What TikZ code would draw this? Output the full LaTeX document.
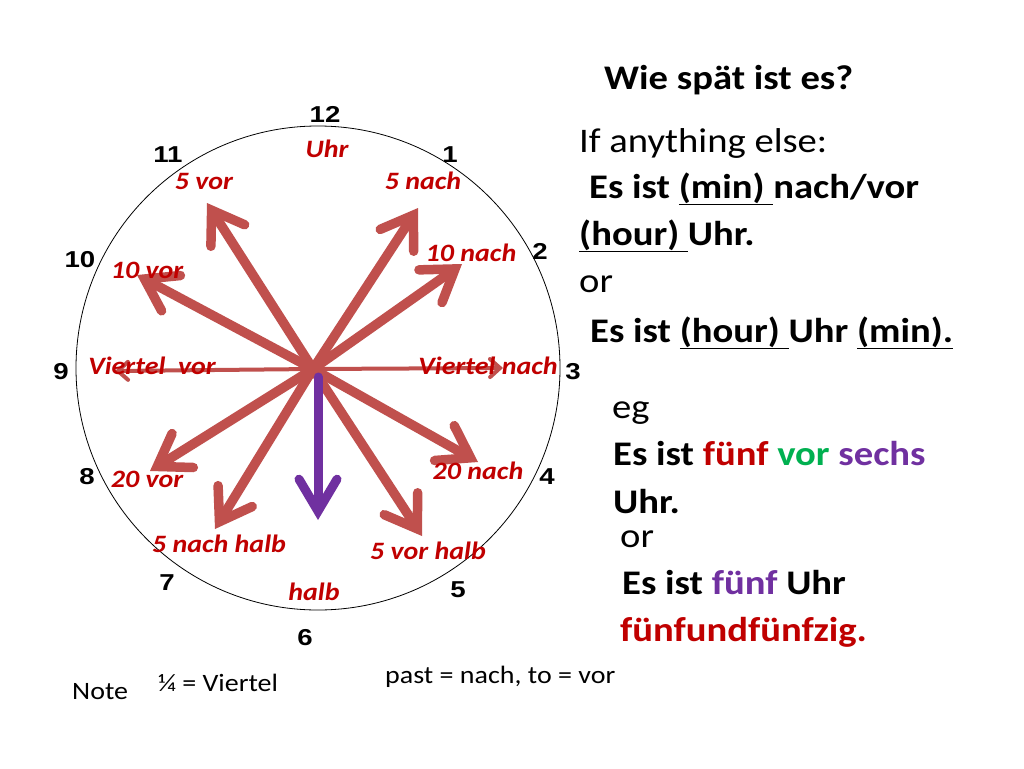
\documentclass[tikz,border=0pt]{standalone}
\usepackage{fontspec}
\setmainfont{Carlito}[FakeStretch=1.12]
\newfontfamily\dialfont{Liberation Sans}[FakeStretch=1.2]
\usetikzlibrary{arrows.meta}
\definecolor{handred}{HTML}{C0504D}
\definecolor{labred}{HTML}{C00000}
\definecolor{hourpurple}{HTML}{7030A0}
\definecolor{vorgreen}{HTML}{00B050}
\tikzset{
  hand/.style     = {-{Straight Barb[length=30pt,width=40pt,line cap=round,line join=miter]},line width=9.5pt,handred,line cap=round},
  thinhand/.style = {-{Straight Barb[length=10pt,width=18pt,line cap=round,line join=miter]},line width=4pt,handred,line cap=round},
  hourhand/.style = {-{Straight Barb[length=32pt,width=38pt,line cap=round,line join=miter]},line width=9pt,hourpurple,line cap=round},
  dialnum/.style  = {inner sep=0,font=\dialfont\bfseries\fontsize{23}{23}\selectfont},
  minlbl/.style   = {inner sep=0,labred,font=\bfseries\itshape\fontsize{25}{25}\selectfont},
  txt/.style      = {anchor=base west,inner sep=0,font=\fontsize{34.5}{34.5}\selectfont},
  btxt/.style     = {txt,font=\bfseries\fontsize{34.5}{34.5}\selectfont},
  smalltxt/.style = {anchor=base west,inner sep=0,font=\fontsize{25}{25}\selectfont}
}

\begin{document}
\begin{tikzpicture}[x=1pt,y=-1pt]
  \fill[white] (0,0) rectangle (1024,768);
  \useasboundingbox (0,0) rectangle (1024,768);
  % clock face
  \coordinate (hub) at (313,369);
  \draw[black,line width=0.8pt] (318,368) circle[radius=242];
  \fill[black] (hub) circle[radius=6];
  \node[dialnum] (n12) at (325,114) {12};
  \node[dialnum] (n1)  at (450,155) {1};
  \node[dialnum] (n2)  at (540,251) {2};
  \node[dialnum] (n3)  at (573,372) {3};
  \node[dialnum] (n4)  at (547,477) {4};
  \node[dialnum] (n5)  at (458,590) {5};
  \node[dialnum] (n6)  at (305,638) {6};
  \node[dialnum] (n7)  at (167,583) {7};
  \node[dialnum] (n8)  at (87,477)  {8};
  \node[dialnum] (n9)  at (61,372)  {9};
  \node[dialnum] (n10) at (80,260)  {10};
  \node[dialnum] (n11) at (168,155) {11};
  % hands
  \coordinate (t5vor)   at (207,203);
  \coordinate (t5nach)  at (418,208);
  \coordinate (t10nach) at (462,264);
  \coordinate (t10vor)  at (137,275);
  \coordinate (tVvor)   at (115,371);
  \coordinate (tVnach)  at (503,368);
  \coordinate (t20vor)  at (150,471);
  \coordinate (t20nach) at (478,462);
  \coordinate (t5nh)    at (215,529);
  \coordinate (t5vh)    at (422,536);
  \coordinate (hstart)  at (318,377);
  \coordinate (htip)    at (318,520);
  \draw[hand] (hub) -- (t5vor);
  \draw[hand] (hub) -- (t5nach);
  \draw[hand] (hub) -- (t10nach);
  \draw[hand] (hub) -- (t10vor);
  \draw[hand] (hub) -- (t20vor);
  \draw[hand] (hub) -- (t20nach);
  \draw[hand] (hub) -- (t5nh);
  \draw[hand] (hub) -- (t5vh);
  \draw[thinhand] (hub) -- (tVvor);
  \draw[thinhand] (hub) -- (tVnach);
  \draw[hourhand] (hstart) -- (htip);
  % minute labels
  \node[minlbl] (lUhr)    at (327,149) {Uhr};
  \node[minlbl] (l5vor)   at (204,181) {5 vor};
  \node[minlbl] (l5nach)  at (423,181) {5 nach};
  \node[minlbl] (l10nach) at (471,253) {10 nach};
  \node[minlbl] (l10vor)  at (147,270) {10 vor};
  \node[minlbl] (lVvor)   at (152,366) {Viertel\ \ vor};
  \node[minlbl] (lVnach)  at (488,366) {Viertel nach};
  \node[minlbl] (l20vor)  at (147,479) {20 vor};
  \node[minlbl] (l20nach) at (478,471) {20 nach};
  \node[minlbl] (l5nh)    at (219,544) {5 nach halb};
  \node[minlbl] (l5vh)    at (428,551) {5 vor halb};
  \node[minlbl] (lhalb)   at (314,592) {halb};
  % rules
  \node[btxt] (wie)    at (604,89)  {Wie spät ist es?};
  \node[txt]  (ifelse) at (579,152) {If anything else:};
  \node[btxt] (ruleA)  at (589,198) {Es ist \underline{(min) }nach/vor};
  \node[btxt] (ruleB)  at (579,245) {\underline{(hour) }Uhr.};
  \node[txt]  (orA)    at (579,292) {or};
  \node[btxt] (ruleC)  at (590,342) {Es ist \underline{(hour) }Uhr \underline{(min).}};
  % example
  \node[txt]  (eg)  at (612,418) {eg};
  \node[btxt] (exA) at (613,465) {Es ist \textcolor{labred}{fünf} \textcolor{vorgreen}{vor} \textcolor{hourpurple}{sechs}};
  \node[btxt] (exB) at (613,513) {Uhr.};
  \node[txt]  (orB) at (620,547) {or};
  \node[btxt] (exC) at (622,594) {Es ist \textcolor{hourpurple}{fünf} Uhr};
  \node[btxt,labred] (exD) at (620,641) {fünfundfünfzig.};
  % notes
  \node[smalltxt] (note)    at (72,699)  {Note};
  \node[smalltxt] (quarter) at (158,691) {¼ = Viertel};
  \node[smalltxt] (pastto)  at (385,683) {past = nach, to = vor};
\end{tikzpicture}
\end{document}
